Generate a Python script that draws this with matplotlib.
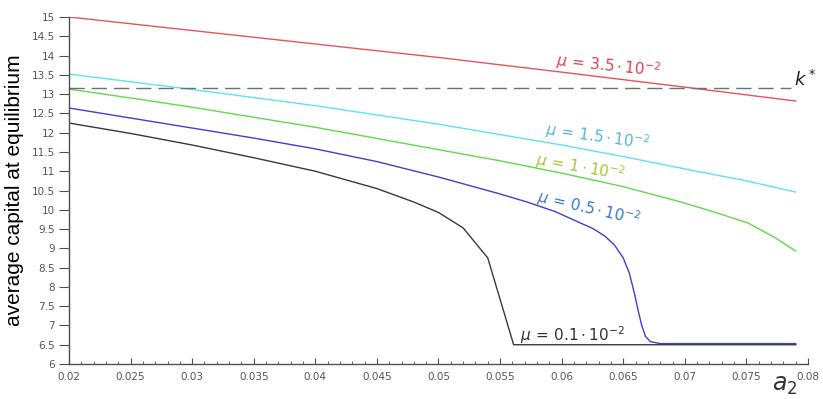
import matplotlib
matplotlib.use('Agg')
import matplotlib.pyplot as plt
from matplotlib.ticker import MultipleLocator, FormatStrFormatter

# values
a2_red = [0.020, 0.030, 0.040, 0.050, 0.055, 0.060, 0.070, 0.079]
k_red = [15.0, 14.65, 14.30, 13.95, 13.76, 13.57, 13.18, 12.82]

a2_cyan = [0.020, 0.030, 0.040, 0.050, 0.055, 0.060, 0.065, 0.070, 0.075, 0.079]
k_cyan = [13.52, 13.12, 12.70, 12.22, 11.95, 11.68, 11.38, 11.06, 10.75, 10.46]

a2_green = [0.020, 0.025, 0.030, 0.035, 0.040, 0.045, 0.050, 0.055, 0.060,
            0.065, 0.0697, 0.0724, 0.0751, 0.0772, 0.079]
k_green = [13.13, 12.90, 12.66, 12.40, 12.14, 11.85, 11.56, 11.27, 10.95,
           10.60, 10.20, 9.94, 9.66, 9.30, 8.93]

a2_blue = [0.020, 0.025, 0.030, 0.035, 0.040, 0.045, 0.050, 0.055, 0.0572,
           0.0595, 0.0615, 0.0625, 0.0635, 0.0643, 0.0650, 0.0655, 0.0659,
           0.0662, 0.0665, 0.0668, 0.0672, 0.0680, 0.079]
k_blue = [12.64, 12.38, 12.12, 11.86, 11.58, 11.25, 10.85, 10.41, 10.20,
          9.95, 9.66, 9.52, 9.32, 9.08, 8.75, 8.35, 7.84,
          7.40, 7.00, 6.72, 6.58, 6.53, 6.53]

a2_black = [0.020, 0.025, 0.030, 0.035, 0.040, 0.045, 0.048, 0.050, 0.052,
            0.054, 0.0561, 0.079]
k_black = [12.25, 11.98, 11.68, 11.35, 11.00, 10.55, 10.20, 9.93, 9.53,
           8.75, 6.50, 6.50]

k_star = 13.17

fig = plt.figure(figsize=(8.23, 3.99), dpi=100)
ax = fig.add_axes([0.0838, 0.0877, 0.8980, 0.8697])

ax.plot(a2_red, k_red, color='#e8535b', lw=1.0)
ax.plot(a2_cyan, k_cyan, color='#5fe3ea', lw=1.0)
ax.plot(a2_green, k_green, color='#62d84a', lw=1.0)
ax.plot(a2_blue, k_blue, color='#4040d0', lw=1.0)
ax.plot(a2_black, k_black, color='#3a3a3a', lw=1.0)
ax.plot([0.02, 0.0786], [k_star, k_star], color='#707070', lw=1.0, dashes=(11, 5))

ax.set_xlim(0.02, 0.08)
ax.set_ylim(6, 15)

ax.xaxis.set_major_locator(MultipleLocator(0.005))
ax.xaxis.set_minor_locator(MultipleLocator(0.001))
ax.xaxis.set_major_formatter(FormatStrFormatter('%g'))
ax.yaxis.set_major_locator(MultipleLocator(0.5))
ax.yaxis.set_major_formatter(FormatStrFormatter('%g'))

for s in ['top', 'right']:
    ax.spines[s].set_visible(False)
for s in ['left', 'bottom']:
    ax.spines[s].set_color('#505050')
    ax.spines[s].set_linewidth(1.0)

ax.tick_params(axis='x', which='major', direction='in', length=4, color='#505050',
               labelsize=7.5, labelcolor='#555555', pad=6)
ax.tick_params(axis='x', which='minor', direction='in', length=2.5, color='#505050')
ax.tick_params(axis='y', which='major', direction='out', length=7, color='#505050',
               labelsize=7.5, labelcolor='#555555', pad=3)

fig.text(0.018, 0.524, 'average capital at equilibrium', rotation=90,
         fontsize=15, family='Liberation Sans', ha='center', va='center')
fig.text(0.953, 0.035, r'$a_2$', fontsize=17, ha='center', va='center', color='#333333')
ax.text(0.0798, k_star + 0.2, r'$k^*$', fontsize=13, ha='center', va='center', color='#222222')

# curve labels
ax.text(0.0638, 13.73, r'$\mu\,=\,3.5\cdot10^{-2}$', color='#e0404a', fontsize=11,
        rotation=-6, ha='center', va='center')
ax.text(0.0629, 11.91, r'$\mu\,=\,1.5\cdot10^{-2}$', color='#52b8d8', fontsize=11,
        rotation=-8, ha='center', va='center')
ax.text(0.0615, 11.11, r'$\mu\,=\,1\cdot10^{-2}$', color='#a8c832', fontsize=11,
        rotation=-10, ha='center', va='center')
ax.text(0.0622, 10.04, r'$\mu\,=\,0.5\cdot10^{-2}$', color='#3a78d0', fontsize=11,
        rotation=-13, ha='center', va='center')
ax.text(0.0609, 6.76, r'$\mu\,=\,0.1\cdot10^{-2}$', color='#333333', fontsize=11,
        ha='center', va='center')

fig.savefig('out.png', dpi=100)
